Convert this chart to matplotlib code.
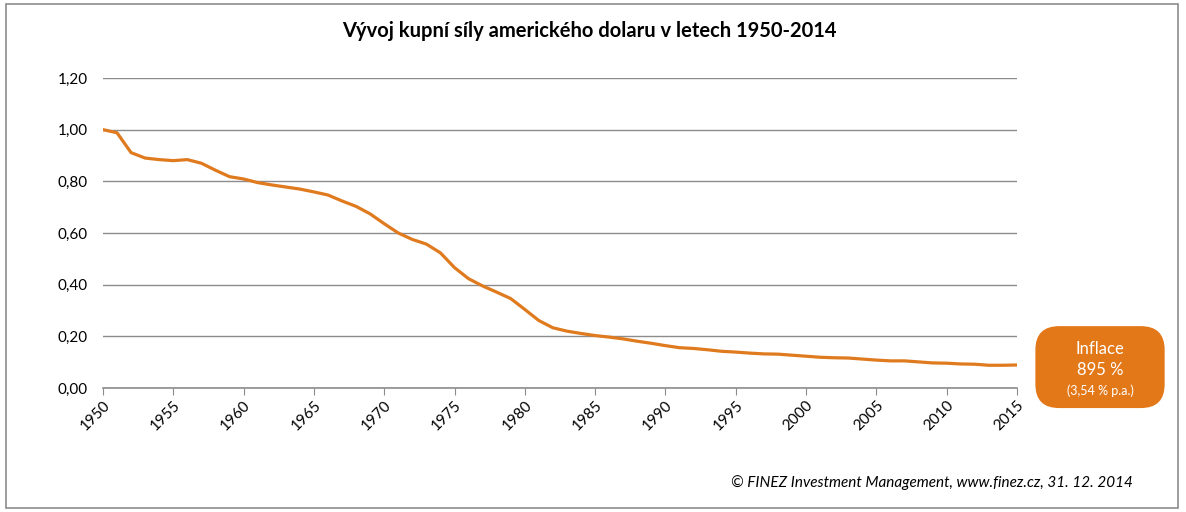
import matplotlib.pyplot as plt
from matplotlib.patches import FancyBboxPatch, Rectangle
from matplotlib.ticker import FuncFormatter

plt.rcParams['font.family'] = ['Lato', 'DejaVu Sans']

# -------------------- data --------------------
years = list(range(1950, 2016))
purchasing_power = [
    1.000, 0.988, 0.911, 0.890, 0.884, 0.880, 0.884, 0.870, 0.843, 0.818,
    0.809, 0.795, 0.786, 0.778, 0.770, 0.759, 0.747, 0.724, 0.703, 0.674,
    0.636, 0.600, 0.575, 0.557, 0.523, 0.466, 0.423, 0.395, 0.371, 0.346,
    0.304, 0.261, 0.233, 0.220, 0.211, 0.203, 0.197, 0.190, 0.181, 0.173,
    0.164, 0.156, 0.153, 0.148, 0.142, 0.139, 0.135, 0.132, 0.131, 0.127,
    0.123, 0.119, 0.117, 0.116, 0.112, 0.108, 0.105, 0.105, 0.101, 0.097,
    0.096, 0.093, 0.092, 0.088, 0.088, 0.089,
]
x_ticks = list(range(1950, 2016, 5))
y_ticks = [0.0, 0.2, 0.4, 0.6, 0.8, 1.0, 1.2]

title = 'Vývoj kupní síly amerického dolaru v letech 1950-2014'
box_lines = ['Inflace', '895 %', '(3,54 % p.a.)']
footer = '© FINEZ Investment Management, www.finez.cz, 31. 12. 2014'

orange = '#E07A1E'
grey = '#8C8C8C'

# -------------------- figure --------------------
fig = plt.figure(figsize=(11.86, 5.12), dpi=100)
fig.patches.append(Rectangle((0.005, 0.008), 0.988, 0.984, transform=fig.transFigure,
                             fill=False, edgecolor=grey, linewidth=1.2))

ax = fig.add_axes([0.0868, 0.2422, 0.7707, 0.6055])
ax.plot(years, purchasing_power, color=orange, linewidth=2.3, solid_joinstyle='round')

ax.set_xlim(1950, 2015)
ax.set_ylim(0, 1.2)
ax.set_xticks(x_ticks)
ax.set_yticks(y_ticks)
ax.yaxis.set_major_formatter(FuncFormatter(lambda v, p: f'{v:.2f}'.replace('.', ',')))
ax.tick_params(axis='x', rotation=45, labelsize=11, length=5, color=grey, pad=2)
ax.tick_params(axis='y', length=0, labelsize=11, pad=11)
for lab in ax.get_xticklabels():
    lab.set_ha('right')
    lab.set_rotation_mode('anchor')

ax.grid(axis='y', color=grey, linewidth=1)
ax.set_axisbelow(True)
for s in ['top', 'right', 'left']:
    ax.spines[s].set_visible(False)
ax.spines['bottom'].set_color(grey)
ax.spines['bottom'].set_linewidth(1.2)

fig.text(0.497, 0.94, title, ha='center', va='center', fontsize=14.5, fontweight='bold')

# inflation box
bx, by, bw, bh = 0.873, 0.203, 0.109, 0.16
fig.patches.append(FancyBboxPatch((bx, by), bw, bh, transform=fig.transFigure,
                                  boxstyle='round,pad=0,rounding_size=0.02',
                                  mutation_aspect=1186 / 512,
                                  facecolor='#E37819', edgecolor='none'))
cx = bx + bw / 2
fig.text(cx, 0.318, box_lines[0], ha='center', va='center', color='white', fontsize=12)
fig.text(cx, 0.277, box_lines[1], ha='center', va='center', color='white', fontsize=12)
fig.text(cx, 0.237, box_lines[2], ha='center', va='center', color='white', fontsize=9)

fig.text(0.955, 0.057, footer, ha='right', va='center', fontsize=11, style='italic')

fig.savefig('out.png', dpi=100)
